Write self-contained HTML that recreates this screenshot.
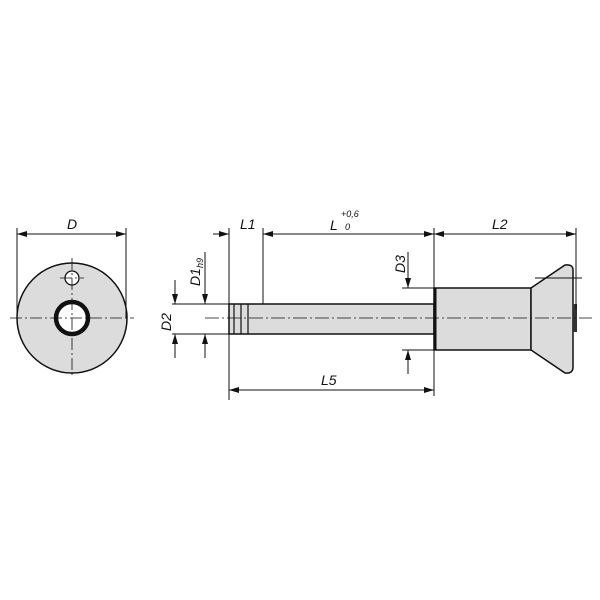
<!DOCTYPE html>
<html><head><style>body{margin:0;background:#fff}svg{display:block}text{font-family:"Liberation Sans",sans-serif;font-style:italic;font-size:14px;fill:#111}</style></head><body>
<svg width="600" height="600" viewBox="0 0 600 600" xmlns="http://www.w3.org/2000/svg">
<defs><marker id="a" viewBox="0 0 10 6" refX="10" refY="3" markerWidth="10" markerHeight="6" orient="auto-start-reverse" markerUnits="userSpaceOnUse"><path d="M0,0 L10,3 L0,6z" fill="#111"/></marker></defs>
<g stroke="#111" fill="none" stroke-width="1">
<circle cx="72" cy="318" r="55" fill="#dcdcdc" stroke-width="1.5"/>
<circle cx="72" cy="278" r="7" fill="#fff" stroke-width="1.3"/>
<circle cx="72" cy="318" r="16" fill="#fff" stroke-width="4.5"/>
<path d="M10 318H134M72 258V378M60 278H84" stroke-dasharray="12 3 2 3" stroke-width="0.8"/>
<path d="M17 228V318M126 228V318"/>
<path d="M17 234H126" marker-start="url(#a)" marker-end="url(#a)"/>
<rect x="229" y="304" width="205" height="30" fill="#dcdcdc" stroke-width="1.5"/>
<path d="M234 304V334M241 304V334M248 304V334" stroke-width="1.2"/>
<rect x="434" y="288" width="97" height="62" fill="#dcdcdc" stroke-width="1.5"/>
<path d="M435 288V350" stroke-width="3"/>
<path d="M531 288L565 265Q573 264 573 270V367Q573 374 565 373L531 350Z" fill="#dcdcdc" stroke-width="1.5"/>
<rect x="573" y="304" width="4" height="28" fill="#333" stroke="none"/>
<path d="M535 278H582"/>
<path d="M205 318H592" stroke-dasharray="14 3 2 3" stroke-width="0.8"/>
<path d="M229 228V400M263 228V304M434 228V396M576 228V310"/>
<path d="M213 234H229" marker-end="url(#a)"/><path d="M279 234H263" marker-end="url(#a)"/>
<path d="M263 234H434" marker-end="url(#a)"/><path d="M434 234H576" marker-start="url(#a)" marker-end="url(#a)"/>
<path d="M229 390H434" marker-start="url(#a)" marker-end="url(#a)"/>
<path d="M402 288H434M402 350H434"/>
<path d="M408 252V288" marker-end="url(#a)"/><path d="M408 374V350" marker-end="url(#a)"/>
<path d="M172 304H229M172 334H229"/>
<path d="M175 280V304" marker-end="url(#a)"/><path d="M175 358V334" marker-end="url(#a)"/>
<path d="M205 252V304" marker-end="url(#a)"/><path d="M205 358V334" marker-end="url(#a)"/>
</g>
<text x="67" y="229">D</text>
<text x="240" y="229">L1</text>
<text x="330" y="230">L</text><text x="341" y="217" style="font-size:9px">+0,6</text><text x="345" y="230" style="font-size:9px">0</text>
<text x="492" y="229">L2</text>
<text x="321" y="385">L5</text>
<text transform="translate(171 331) rotate(-90)">D2</text>
<text transform="translate(200 286) rotate(-90)">D1</text><text transform="translate(203 268) rotate(-90)" style="font-size:9px">h9</text>
<text transform="translate(405 273) rotate(-90)">D3</text>
</svg>
</body></html>
